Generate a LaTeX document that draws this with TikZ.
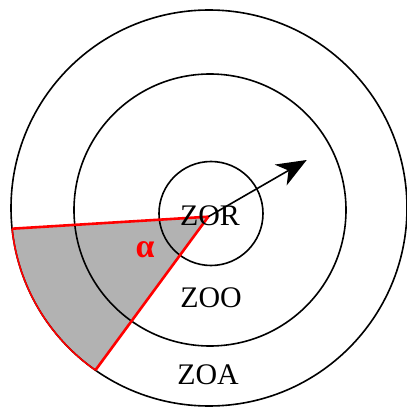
\documentclass[tikz,border=0pt]{standalone}
\usepackage{fontspec}
\setmainfont{Liberation Serif}
\usetikzlibrary{positioning,calc,arrows.meta}

\begin{document}
\begin{tikzpicture}[x=1bp,y=1bp,
		zone/.style={draw=black,line width=1.6bp},
		zonelabel/.style={font=\fontsize{30}{36}\selectfont,inner sep=0pt},
		sector/.style={draw=red,line width=2.6bp,line join=round}]
		\useasboundingbox (0,0) rectangle (407,409);
		\coordinate (oa) at (209,201);
		\coordinate (oo) at (210,199);
		\coordinate (or) at (211,195.5);
		\coordinate (apex) at (208.3,192.3);
		\coordinate (left) at ($(oa)+(186:198)$);
		\coordinate (low) at ($(oa)+(235:198)$);
		\coordinate (head) at (306.7,249);
		\fill[black!30] (apex) -- (left) arc[start angle=186,end angle=235,radius=198] -- cycle;
		\draw[zone] (oa) circle (198);
		\draw[zone] (oo) circle (136);
		\draw[zone] (or) circle (52);
		\draw[red,line width=1.6bp] (left) arc[start angle=186,end angle=235,radius=198];
		\draw[sector] (left) -- (apex) -- (low);
		\draw[line width=1.6bp,-{Stealth[length=30bp,width=24bp,inset=9bp]}] (apex) -- (head);
		\node[zonelabel] (zor) at (210,193) {ZOR};
		\node[zonelabel] (zoo) at (211,111) {ZOO};
		\node[zonelabel] (zoa) at (208,34) {ZOA};
		\node[zonelabel,text=red,font=\fontsize{34}{40}\selectfont\bfseries] (alpha) at (145,159) {α};
	\end{tikzpicture}
\end{document}
